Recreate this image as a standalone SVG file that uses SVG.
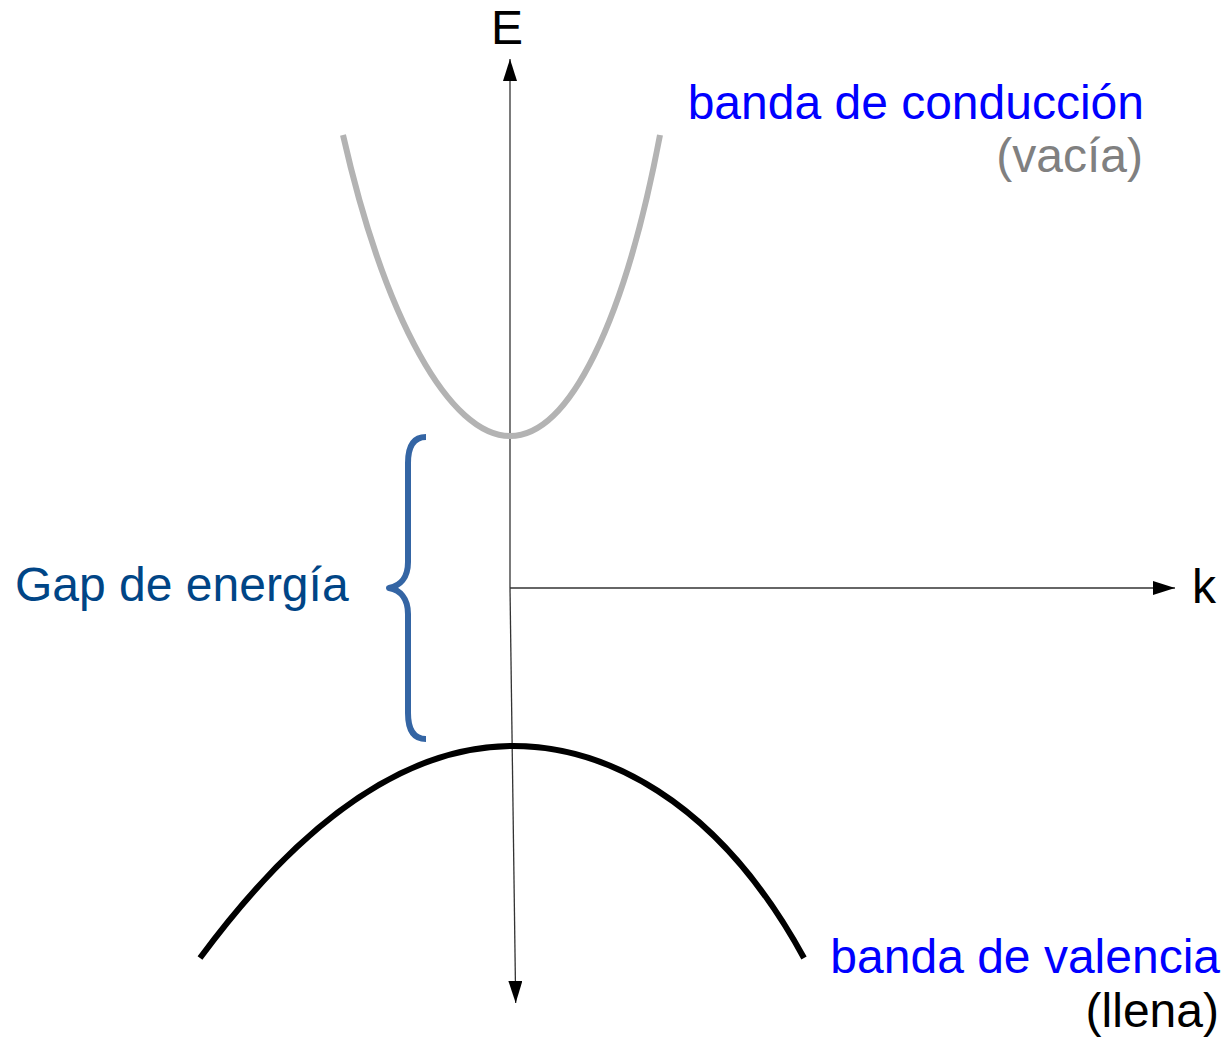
<svg xmlns="http://www.w3.org/2000/svg" width="1228" height="1037" viewBox="0 0 1228 1037">
<style>
text{font-family:"Liberation Sans",Arial,sans-serif;font-size:48px}
.axis{stroke:#333;stroke-width:1.3;fill:none;marker-end:url(#arr)}
.blue{fill:#0000ff}
</style>
<defs>
<marker id="arr" markerUnits="userSpaceOnUse" markerWidth="23" markerHeight="15" refX="22" refY="7" orient="auto" viewBox="0 0 23 15">
<path d="M0,0 L22,7 L0,14 z" fill="#000"/>
</marker>
</defs>
<rect width="1228" height="1037" fill="#fff"/>
<g id="connectors">
<line class="axis" x1="510" y1="588" x2="510" y2="59"/>
<line class="axis" x1="510" y1="588" x2="515.7" y2="1003"/>
<line class="axis" x1="510" y1="588" x2="1175" y2="588"/>
</g>
<g id="conduction-band">
<path d="M343,135 C385,320 450,436 510,436 C570,436 625,320 660,135" fill="none" stroke="#b3b3b3" stroke-width="6"/>
</g>
<g id="valence-band">
<path d="M200,958 Q356.5,746 513,746 C600,746 715,795 804,958" fill="none" stroke="#000" stroke-width="6"/>
</g>
<g id="gap-brace">
<path d="M426,437 C413,437 408,447 408,463 L408,562 C408,578 400,586 389,588 C400,590 408,598 408,614 L408,713 C408,729 413,739 426,739" fill="none" stroke="#3465a4" stroke-width="6" stroke-linejoin="round"/>
</g>
<g id="label-E"><text x="507" y="44" text-anchor="middle">E</text></g>
<g id="label-k"><text x="1192" y="603">k</text></g>
<g id="label-gap"><text x="15" y="601" fill="#004586">Gap de energía</text></g>
<g id="label-conduction">
<text x="1144" y="119" text-anchor="end" class="blue">banda de conducción</text>
<text x="1143" y="172" text-anchor="end" fill="#808080">(vacía)</text>
</g>
<g id="label-valence">
<text x="1220" y="973" text-anchor="end" class="blue">banda de valencia</text>
<text x="1219" y="1027" text-anchor="end" fill="#000">(llena)</text>
</g>
</svg>
